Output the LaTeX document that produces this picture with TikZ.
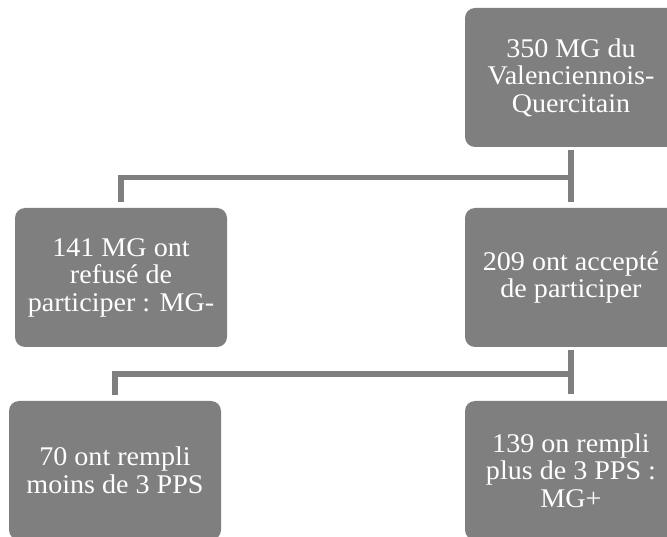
\documentclass[tikz,border=0pt]{standalone}
\usepackage{fontspec}
\setmainfont[FakeStretch=1.04]{Liberation Serif}
\usetikzlibrary{calc}
\definecolor{boxgray}{RGB}{127,127,127}
\tikzset{
  box/.style={fill=boxgray, draw=none, rounded corners=10pt, minimum width=212pt, minimum height=139pt,
    inner sep=0pt, text=white, align=center, font=\fontsize{27}{27.5}\selectfont},
  conn/.style={draw=boxgray, line width=5.5pt}
}
\begin{document}
\begin{tikzpicture}[x=1pt,y=1pt]
\useasboundingbox (0,0) rectangle (667,536);
\clip (0,0) rectangle (667,536);
\node[box] (top) at (571,458.5) {350 MG du\\Valenciennois-\\Quercitain};
\node[box] (refus) at (121,258.5) {141 MG ont\\refusé de\\participer : MG-};
\node[box] (accept) at (571,258.5) {209 ont accepté\\de participer};
\node[box] (moins) at (115,65.5) {70 ont rempli\\moins de 3 PPS};
\node[box] (plus) at (571,65.5) {139 on rempli\\plus de 3 PPS :\\MG+};
\coordinate (j1) at ($(top.south)!0.5!(accept.north)$);
\coordinate (j2) at ($(accept.south)!0.5!(plus.north)$);
\draw[conn] ([yshift=-3pt]top.south) -- ([yshift=6pt]accept.north);
\draw[conn] (j1) -| ([yshift=6pt]refus.north);
\draw[conn] ([yshift=-3pt]accept.south) -- ([yshift=7pt]plus.north);
\draw[conn] (j2) -| ([yshift=6pt]moins.north);
\end{tikzpicture}
\end{document}
